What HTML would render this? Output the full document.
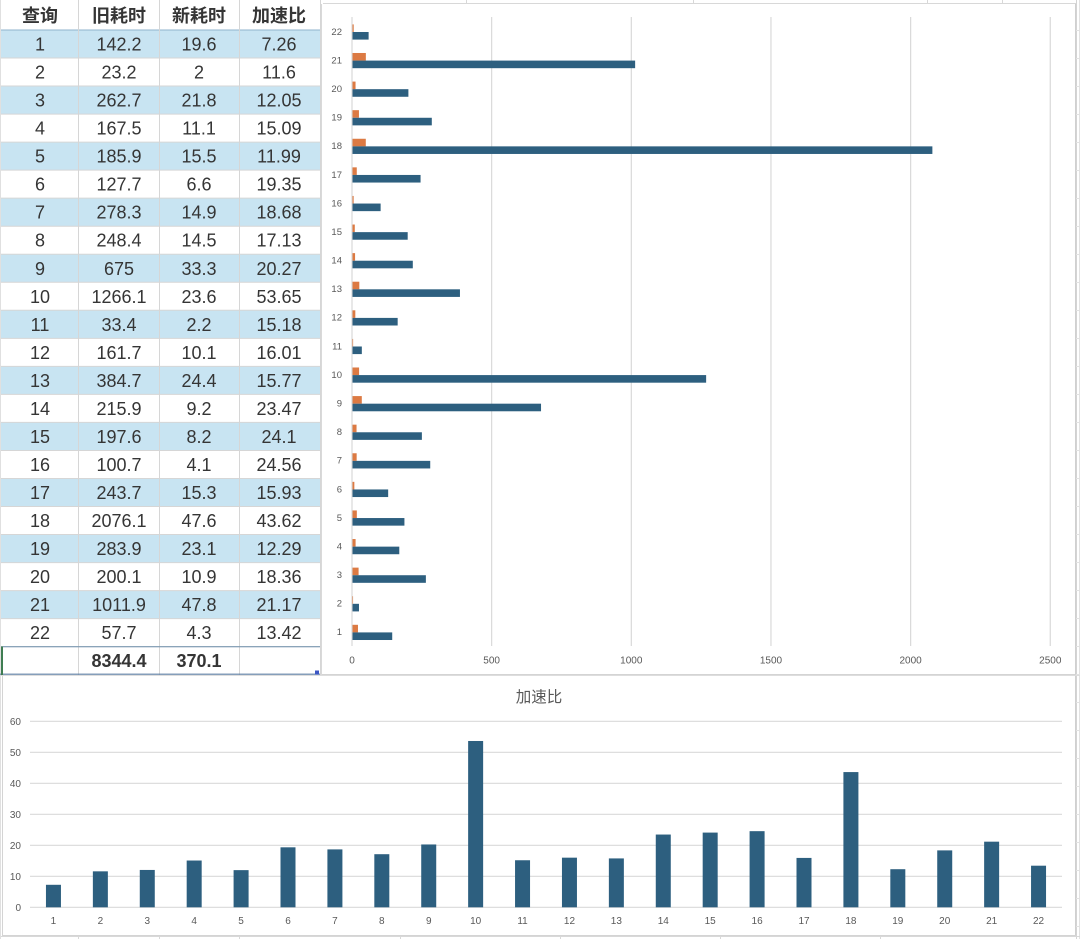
<!DOCTYPE html>
<html>
<head>
<meta charset="utf-8">
<style>
  html, body { margin: 0; padding: 0; background: #ffffff; }
  body { width: 1080px; height: 939px; overflow: hidden; position: relative; }
  svg { position: absolute; left: 0; top: 0; display: block; }
  .t { font-family: "Liberation Sans", "Noto Sans CJK SC", sans-serif; }
</style>
</head>
<body>
<svg id="s" width="1080" height="939" viewBox="0 0 1080 939" xmlns="http://www.w3.org/2000/svg">
  <rect x="0" y="0" width="1080" height="939" fill="#ffffff"/>
  <g id="g"></g>
</svg>
<script>
(function(){
  var NS = "http://www.w3.org/2000/svg";
  var g = document.getElementById("g");
  function el(tag, attrs, txt){
    var e = document.createElementNS(NS, tag);
    for (var k in attrs) e.setAttribute(k, attrs[k]);
    if (txt !== undefined) e.textContent = txt;
    g.appendChild(e);
    return e;
  }
  function rect(x,y,w,h,fill){ return el("rect",{x:x,y:y,width:w,height:h,fill:fill}); }
  function line(x1,y1,x2,y2,stroke,sw){ return el("line",{x1:x1,y1:y1,x2:x2,y2:y2,stroke:stroke,"stroke-width":sw||1}); }
  function text(x,y,s,size,fill,anchor,weight){
    return el("text",{x:x,y:y,"font-size":size,fill:fill,"text-anchor":anchor||"middle","font-weight":weight||"normal","class":"t","font-family":"Liberation Sans, Noto Sans CJK SC, sans-serif"}, s);
  }

  var oldT = [142.2,23.2,262.7,167.5,185.9,127.7,278.3,248.4,675,1266.1,33.4,161.7,384.7,215.9,197.6,100.7,243.7,2076.1,283.9,200.1,1011.9,57.7];
  var newT = [19.6,2,21.8,11.1,15.5,6.6,14.9,14.5,33.3,23.6,2.2,10.1,24.4,9.2,8.2,4.1,15.3,47.6,23.1,10.9,47.8,4.3];
  var sp = ["7.26","11.6","12.05","15.09","11.99","19.35","18.68","17.13","20.27","53.65","15.18","16.01","15.77","23.47","24.1","24.56","15.93","43.62","12.29","18.36","21.17","13.42"];
  var oldS = ["142.2","23.2","262.7","167.5","185.9","127.7","278.3","248.4","675","1266.1","33.4","161.7","384.7","215.9","197.6","100.7","243.7","2076.1","283.9","200.1","1011.9","57.7"];
  var newS = ["19.6","2","21.8","11.1","15.5","6.6","14.9","14.5","33.3","23.6","2.2","10.1","24.4","9.2","8.2","4.1","15.3","47.6","23.1","10.9","47.8","4.3"];

  var BLUE = "#2d5f7f", ORANGE = "#dc7a43", GRID = "#d9d9d9", LBL = "#595959", TXT = "#353535";

  rect(0,0,1080,939,"#ffffff");
  line(1076.5,0,1076.5,939,"#d4d4d4");
  line(1079.5,0,1079.5,939,"#e2e2e2");
  for (var yy=30; yy<939; yy+=28) line(1076,yy+0.5,1080,yy+0.5,"#e2e2e2");
  line(0,936.5,1080,936.5,"#d8d8d8");
  [78,159,239,400,560,720,880].forEach(function(x){ line(x+0.5,936,x+0.5,939,"#d8d8d8"); });
  line(323,3.5,1076,3.5,"#d8d8d8");
  [466,693,927,1002].forEach(function(x){ line(x+0.5,0,x+0.5,4,"#d8d8d8"); });

  var RH = 28.03, top0 = 30;
  rect(0,0,320,30,"#ffffff");
  for (var i=0;i<22;i++){
    var y = top0 + i*RH;
    rect(0,y,320,RH+0.5,(i%2===0)?"#c8e4f2":"#ffffff");
  }
  rect(0,646.7,320,28,"#ffffff");
  for (var i=1;i<=22;i++){
    var y = top0 + i*RH;
    line(0,y,320,y,"#d6d6d6");
  }
  line(0,30,320,30,"#8fb3cc");
  [78.5,159.5,239.5].forEach(function(x){ line(x,0,x,675,"#d6d6d6"); });
  line(320.5,0,320.5,675,"#d6d6d6");
  line(0.5,0,0.5,939,"#e0e0e0");

  var cx = [40,119,199,279];
  ["查询","旧耗时","新耗时","加速比"].forEach(function(s,j){ text(cx[j],22,s,18,TXT,"middle","bold"); });
  for (var i=0;i<22;i++){
    var yc = top0 + i*RH + RH/2 + 6.5;
    text(cx[0],yc,String(i+1),18,TXT);
    text(cx[1],yc,oldS[i],18,TXT);
    text(cx[2],yc,newS[i],18,TXT);
    text(cx[3],yc,sp[i],18,TXT);
  }
  text(119,667,"8344.4",18,TXT,"middle","bold");
  text(199,667,"370.1",18,TXT,"middle","bold");
  line(1,646.7,320,646.7,"#6f8fac",1);
  line(0,674.2,320,674.2,"#5d7ea3",1.2);
  line(2,646.5,2,675,"#3f7d52",2);
  rect(315,670.5,4,4,"#3c56c4");

  line(321.5,4,321.5,676,"#d9d9d9");
  rect(323,4,752,670,"#ffffff");
  line(1075.5,4,1075.5,676,"#d0d0d0");
  line(322,674.5,1076,674.5,"#d4d4d4");
  line(0,675.5,1080,675.5,"#dddddd");

  var X0 = 352, KX = 0.27931, YT = 17, YB = 646, CH = (YB-YT)/22;
  for (var k=0;k<=5;k++){
    var x = X0 + k*500*KX;
    line(x,YT,x,YB,GRID,1.2);
    text(x,663.5,String(k*500),10,LBL,"middle");
  }
  for (var i=0;i<22;i++){
    var yc = YB - (i+0.5)*CH;
    var mid = yc + 0.7;
    rect(X0+0.5, mid-7.6, newT[i]*KX, 7.6, ORANGE);
    rect(X0+0.5, mid, oldT[i]*KX, 7.6, BLUE);
    text(342, yc+3.5, String(i+1), 9.5, LBL, "end");
  }

  rect(3,676,1073,259,"#ffffff");
  line(2.5,676,2.5,936,"#d4d4d4");
  line(1075.5,676,1075.5,936,"#d0d0d0");
  line(3,935.5,1076,935.5,"#d4d4d4");

  text(539,702,"加速比",15.5,LBL,"middle");
  var PX0 = 30, PX1 = 1062, Y0 = 907.3, KY = 3.1, CW = (PX1-PX0)/22;
  for (var v=0; v<=60; v+=10){
    var y = Y0 - v*KY;
    line(PX0,y,PX1,y,GRID,1.2);
    text(21,y+3.5,String(v),10,LBL,"end");
  }
  for (var i=0;i<22;i++){
    var c = PX0 + (i+0.5)*CW;
    var h = parseFloat(sp[i])*KY;
    rect(c-7.5, Y0-h, 15, h, BLUE);
    text(c, 924, String(i+1), 10, LBL, "middle");
  }
})();
</script>
</body>
</html>
